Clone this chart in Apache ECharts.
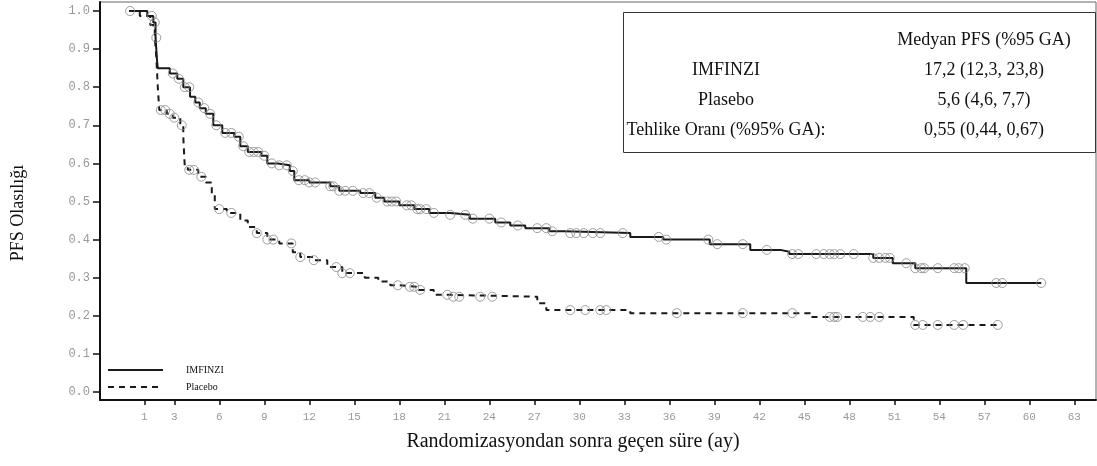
<!DOCTYPE html>
<html>
<head>
<meta charset="utf-8">
<script src="https://cdn.jsdelivr.net/npm/echarts@6/dist/echarts.min.js"></script>
<style>
html,body{margin:0;padding:0;background:#fff;}
#c{width:1097px;height:466px;}
</style>
</head>
<body>
<div id="c"></div>
<script>
// ---- data ----
const xTicks = [1,3,6,9,12,15,18,21,24,27,30,33,36,39,42,45,48,51,54,57,60,63];
const yTicks = [0,0.1,0.2,0.3,0.4,0.5,0.6,0.7,0.8,0.9,1.0];

// IMFINZI step function: times of drops and survival after drop
const imfT = [0,1.2,1.6,1.75,1.85,1.9,2.7,3.2,3.6,4.05,4.4,4.7,5.1,5.6,6.2,7.0,7.4,7.9,8.8,9.2,9.9,10.7,11.0,12.0,13.4,14.0,15.4,16.4,17.0,18.0,19.0,20.0,21.4,22.7,24.4,25.4,26.4,28.0,29.0,33.4,35.6,38.7,41.4,43.4,44.0,49.6,50.9,52.4,55.8];
const imfS = [1.0,0.987,0.97,0.93,0.87,0.85,0.836,0.822,0.80,0.775,0.76,0.745,0.73,0.70,0.68,0.67,0.645,0.63,0.62,0.60,0.595,0.58,0.556,0.55,0.54,0.528,0.522,0.51,0.50,0.49,0.48,0.47,0.465,0.455,0.445,0.437,0.43,0.422,0.417,0.407,0.40,0.388,0.373,0.368,0.362,0.352,0.338,0.325,0.286];
const imfCensor = [0.05,1.5,1.7,1.8,2.9,3.3,3.7,4.0,4.6,5.0,5.4,5.8,6.4,6.8,7.3,7.6,8.0,8.3,8.6,9.0,9.5,10.0,10.5,10.9,11.3,11.7,12.0,12.4,13.4,13.6,14.0,14.4,14.9,15.6,16.0,16.5,17.2,17.5,17.8,18.5,18.8,19.2,19.4,19.8,20.3,21.4,22.4,22.9,24.0,24.8,25.9,27.2,27.8,28.2,29.4,29.8,30.3,30.9,31.4,32.9,35.3,35.8,38.6,39.2,40.9,42.5,44.2,44.6,45.8,46.3,46.7,47.0,47.4,48.3,49.6,50.0,50.4,50.7,51.8,52.4,52.8,53.0,53.9,55.0,55.3,55.7,57.8,58.2,60.8];

// Placebo step function
const plaT = [0,0.7,1.4,1.7,1.8,1.9,2.0,2.5,2.9,3.4,3.6,3.7,3.9,4.6,5.1,5.5,5.7,6.5,7.4,7.9,8.5,9.2,10.0,10.9,11.4,12.3,13.2,14.2,15.7,16.6,17.4,18.0,19.3,20.3,21.4,27.2,27.8,33.4,45.4,52.3];
const plaS = [1.0,0.987,0.963,0.93,0.88,0.80,0.74,0.73,0.72,0.70,0.67,0.59,0.583,0.565,0.55,0.52,0.48,0.47,0.45,0.433,0.417,0.40,0.39,0.367,0.354,0.346,0.328,0.312,0.30,0.29,0.28,0.276,0.268,0.255,0.25,0.233,0.215,0.207,0.197,0.176];
const plaCensor = [2.1,2.4,2.7,3.0,3.5,4.0,4.3,4.8,6.0,6.8,8.5,9.2,9.6,10.8,11.4,12.3,13.8,14.2,14.7,17.9,18.7,19.0,19.4,21.2,21.6,22.0,23.4,24.2,29.4,30.4,31.4,31.8,36.5,40.9,44.2,46.7,47.0,47.2,48.9,49.4,50.0,52.4,52.9,53.9,55.0,55.6,57.9];

const seriesNames = ['IMFINZI','Placebo'];
const yTitle = 'PFS Olasılığı';
const xTitle = 'Randomizasyondan sonra geçen süre (ay)';
const tableRows = [
  ['', 'Medyan PFS (%95 GA)'],
  ['IMFINZI', '17,2 (12,3, 23,8)'],
  ['Plasebo', '5,6 (4,6, 7,7)'],
  ['Tehlike Oranı (%95% GA):', '0,55 (0,44, 0,67)']
];

// ---- helpers ----
function stepData(T,S,endT){
  const d = T.map((t,i)=>[t,S[i]]);
  d.push([endT,S[S.length-1]]);
  return d;
}
function survAt(T,S,c){
  let v = S[0];
  for(let i=0;i<T.length;i++){ if(T[i]<=c) v=S[i]; }
  return v;
}
const imfEnd = Math.max(...imfCensor);
const plaEnd = Math.max(...plaCensor);

const serif = '"Liberation Serif","Times New Roman",serif';
const mono = '"Liberation Mono","DejaVu Sans Mono",monospace';

const chart = echarts.init(document.getElementById('c'));
const censorStyle = {color:'rgba(0,0,0,0)', borderColor:'#888', borderWidth:1};

// table graphics
const tableFont = '18px ' + serif;
const graphics = [
  {type:'rect', left:623, top:12, shape:{width:472, height:140}, style:{fill:'#fff', stroke:'#333', lineWidth:1}, z:100}
];
tableRows.forEach((r,i)=>{
  const y = 40 + i*30;
  if(r[0]) graphics.push({type:'text', x:726, y:y, style:{text:r[0], font:tableFont, fill:'#111', align:'center', verticalAlign:'middle'}, z:101});
  graphics.push({type:'text', x:984, y:y, style:{text:r[1], font:tableFont, fill:'#111', align:'center', verticalAlign:'middle'}, z:101});
});
// legend (drawn manually: line samples + labels)
seriesNames.forEach((n,i)=>{
  const y = 370 + i*17;
  graphics.push({type:'line', shape:{x1:108,y1:y,x2:163,y2:y}, style:{stroke:'#1a1a1a', lineWidth:2, lineDash: i===1?[6,5]:null}, z:50});
  graphics.push({type:'text', x:186, y:y, style:{text:n, font:'10px '+serif, fill:'#111', align:'left', verticalAlign:'middle'}, z:50});
});
// y-axis title
graphics.push({type:'text', x:18, y:213, rotation:Math.PI/2,
  style:{text:yTitle, font:'18px '+serif, fill:'#111', align:'center', verticalAlign:'middle'}, z:50});

chart.setOption({
  animation:false,
  backgroundColor:'#fff',
  grid:{left:100, top:2, width:996, height:398, show:true, borderColor:'#666', borderWidth:1, backgroundColor:'transparent'},
  xAxis:{
    type:'value', min:-1.953, max:64.45,
    name:xTitle,
    nameLocation:'middle', nameGap:32,
    nameTextStyle:{fontFamily:serif, fontSize:20, color:'#111', padding:[0,50,0,0]},
    axisLine:{show:true, onZero:false, lineStyle:{color:'#111', width:2}},
    axisTick:{show:true, length:5, lineStyle:{color:'#111', width:1.5}, customValues:xTicks},
    axisLabel:{customValues:xTicks, fontFamily:mono, fontSize:11, color:'#999', margin:12},
    splitLine:{show:false}
  },
  yAxis:{
    type:'value', min:-0.021, max:1.0236,
    axisLine:{show:true, onZero:false, lineStyle:{color:'#111', width:2}},
    axisTick:{show:true, length:7, lineStyle:{color:'#111', width:1.5}, customValues:yTicks},
    axisLabel:{customValues:yTicks, fontFamily:mono, fontSize:12, color:'#999', margin:10,
      formatter:v=>v.toFixed(1)},
    splitLine:{show:false}
  },
  graphic:graphics,
  series:[
    {name:seriesNames[0], type:'line', step:'end', showSymbol:false, symbol:'none',
     data:stepData(imfT,imfS,imfEnd), lineStyle:{color:'#1a1a1a', width:2}, itemStyle:{color:'#1a1a1a'}, z:3},
    {name:seriesNames[1], type:'line', step:'end', showSymbol:false, symbol:'none',
     data:stepData(plaT,plaS,plaEnd), lineStyle:{color:'#1a1a1a', width:2, type:[6,5]}, itemStyle:{color:'#1a1a1a'}, z:3},
    {name:'imfC', type:'scatter', symbol:'circle', symbolSize:9,
     data:imfCensor.map(c=>[c,survAt(imfT,imfS,c)]), itemStyle:censorStyle, z:4, silent:true},
    {name:'plaC', type:'scatter', symbol:'circle', symbolSize:9,
     data:plaCensor.map(c=>[c,survAt(plaT,plaS,c)]), itemStyle:censorStyle, z:4, silent:true}
  ]
});
</script>
</body>
</html>
